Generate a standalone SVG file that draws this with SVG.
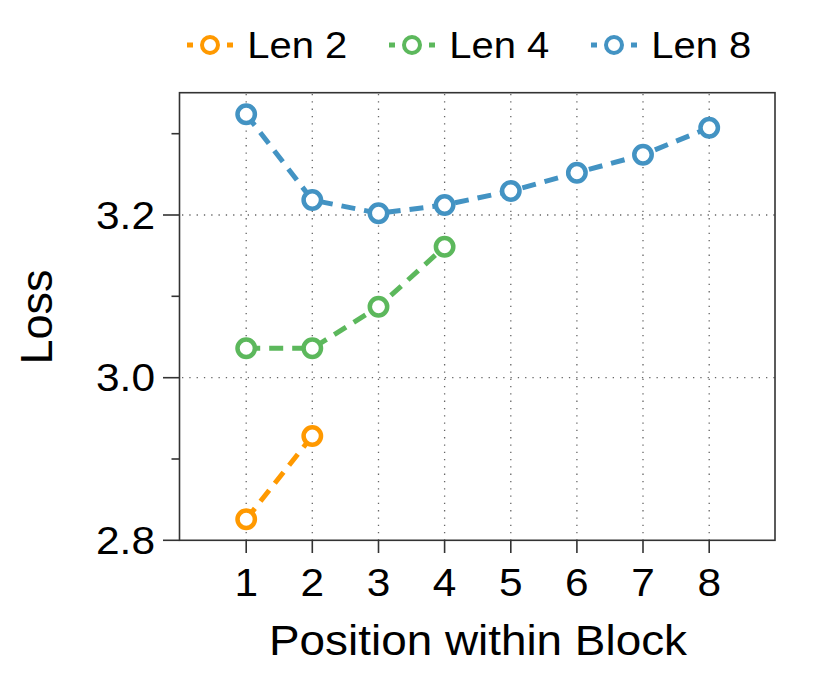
<svg xmlns="http://www.w3.org/2000/svg" width="831" height="684" viewBox="0 0 831 684">
<style>
  text { font-family: "Liberation Sans", Arial, sans-serif; fill: #000; }
  .grid { stroke: #666; stroke-width: 1.3; stroke-dasharray: 1.3 6; fill: none; }
  .axis { stroke: #333; stroke-width: 1.6; fill: none; }
  .tick { stroke: #333; stroke-width: 1.6; }
  .tl { font-size: 39px; }
  .leg { font-size: 37px; }
  .s2 { stroke: #ff9900; }
  .s4 { stroke: #5cb85c; }
  .s8 { stroke: #4393c3; }
  .ln { fill: none; stroke-width: 5; stroke-dasharray: 14 9; }
  .mk { fill: #fff; stroke-width: 4.5; }
  .lmk { fill: #fff; stroke-width: 4; }
  .ld { stroke-width: 5; }
</style>
<rect width="831" height="684" fill="#fff"/>
<g id="grid">
  <line class="grid" x1="246.2" y1="94" x2="246.2" y2="540"/>
  <line class="grid" x1="312.3" y1="94" x2="312.3" y2="540"/>
  <line class="grid" x1="378.5" y1="94" x2="378.5" y2="540"/>
  <line class="grid" x1="444.6" y1="94" x2="444.6" y2="540"/>
  <line class="grid" x1="510.8" y1="94" x2="510.8" y2="540"/>
  <line class="grid" x1="576.9" y1="94" x2="576.9" y2="540"/>
  <line class="grid" x1="643.0" y1="94" x2="643.0" y2="540"/>
  <line class="grid" x1="709.2" y1="94" x2="709.2" y2="540"/>
  <line class="grid" x1="182" y1="215" x2="775" y2="215"/>
  <line class="grid" x1="182" y1="377.7" x2="775" y2="377.7"/>
</g>
<g id="axes">
  <rect class="axis" x="179.5" y="92.7" width="595.5" height="447.6"/>
  <line class="tick" x1="163" y1="215" x2="179.5" y2="215"/>
  <line class="tick" x1="163" y1="377.7" x2="179.5" y2="377.7"/>
  <line class="tick" x1="163" y1="540.3" x2="179.5" y2="540.3"/>
  <line class="tick" x1="171.5" y1="133.7" x2="179.5" y2="133.7"/>
  <line class="tick" x1="171.5" y1="296.3" x2="179.5" y2="296.3"/>
  <line class="tick" x1="171.5" y1="459" x2="179.5" y2="459"/>
  <line class="tick" x1="246.2" y1="540.3" x2="246.2" y2="553"/>
  <line class="tick" x1="312.3" y1="540.3" x2="312.3" y2="553"/>
  <line class="tick" x1="378.5" y1="540.3" x2="378.5" y2="553"/>
  <line class="tick" x1="444.6" y1="540.3" x2="444.6" y2="553"/>
  <line class="tick" x1="510.8" y1="540.3" x2="510.8" y2="553"/>
  <line class="tick" x1="576.9" y1="540.3" x2="576.9" y2="553"/>
  <line class="tick" x1="643.0" y1="540.3" x2="643.0" y2="553"/>
  <line class="tick" x1="709.2" y1="540.3" x2="709.2" y2="553"/>
  <text class="tl" x="155" y="228.5" text-anchor="end" textLength="59" lengthAdjust="spacingAndGlyphs">3.2</text>
  <text class="tl" x="155" y="391.2" text-anchor="end" textLength="59" lengthAdjust="spacingAndGlyphs">3.0</text>
  <text class="tl" x="155" y="553.8" text-anchor="end" textLength="59" lengthAdjust="spacingAndGlyphs">2.8</text>
  <text class="tl" x="246.2" y="596" text-anchor="middle" textLength="23.6" lengthAdjust="spacingAndGlyphs">1</text>
  <text class="tl" x="312.3" y="596" text-anchor="middle" textLength="23.6" lengthAdjust="spacingAndGlyphs">2</text>
  <text class="tl" x="378.5" y="596" text-anchor="middle" textLength="23.6" lengthAdjust="spacingAndGlyphs">3</text>
  <text class="tl" x="444.6" y="596" text-anchor="middle" textLength="23.6" lengthAdjust="spacingAndGlyphs">4</text>
  <text class="tl" x="510.8" y="596" text-anchor="middle" textLength="23.6" lengthAdjust="spacingAndGlyphs">5</text>
  <text class="tl" x="576.9" y="596" text-anchor="middle" textLength="23.6" lengthAdjust="spacingAndGlyphs">6</text>
  <text class="tl" x="643.0" y="596" text-anchor="middle" textLength="23.6" lengthAdjust="spacingAndGlyphs">7</text>
  <text class="tl" x="709.2" y="596" text-anchor="middle" textLength="23.6" lengthAdjust="spacingAndGlyphs">8</text>
  <text x="269" y="655" font-size="42" textLength="418" lengthAdjust="spacingAndGlyphs">Position within Block</text>
  <text transform="translate(51.5,317) rotate(-90)" font-size="45" text-anchor="middle">Loss</text>
</g>
<g id="connectors">
  <polyline class="ln s2" points="246.2,519.3 312.3,436"/>
  <polyline class="ln s4" points="246.2,348.3 312.3,348.3 378.5,306.7 444.6,246.7"/>
  <polyline class="ln s8" points="246.2,114.3 312.3,200 378.5,213.3 444.6,205 510.8,191 576.9,172.7 643.0,154.7 709.2,127.7"/>
</g>
<g id="len2-points">
  <circle class="mk s2" cx="246.2" cy="519.3" r="8.7"/>
  <circle class="mk s2" cx="312.3" cy="436" r="8.7"/>
</g>
<g id="len4-points">
  <circle class="mk s4" cx="246.2" cy="348.3" r="8.7"/>
  <circle class="mk s4" cx="312.3" cy="348.3" r="8.7"/>
  <circle class="mk s4" cx="378.5" cy="306.7" r="8.7"/>
  <circle class="mk s4" cx="444.6" cy="246.7" r="8.7"/>
</g>
<g id="len8-points">
  <circle class="mk s8" cx="246.2" cy="114.3" r="8.7"/>
  <circle class="mk s8" cx="312.3" cy="200" r="8.7"/>
  <circle class="mk s8" cx="378.5" cy="213.3" r="8.7"/>
  <circle class="mk s8" cx="444.6" cy="205" r="8.7"/>
  <circle class="mk s8" cx="510.8" cy="191" r="8.7"/>
  <circle class="mk s8" cx="576.9" cy="172.7" r="8.7"/>
  <circle class="mk s8" cx="643.0" cy="154.7" r="8.7"/>
  <circle class="mk s8" cx="709.2" cy="127.7" r="8.7"/>
</g>
<g id="legend">
  <g id="legend-len2">
    <line class="ld s2" x1="187" y1="45" x2="193" y2="45"/>
    <line class="ld s2" x1="227" y1="45" x2="233" y2="45"/>
    <circle class="lmk s2" cx="210" cy="45" r="8"/>
    <text class="leg" x="247.3" y="58.3" textLength="100" lengthAdjust="spacingAndGlyphs">Len 2</text>
  </g>
  <g id="legend-len4">
    <line class="ld s4" x1="389" y1="45" x2="395" y2="45"/>
    <line class="ld s4" x1="429" y1="45" x2="435" y2="45"/>
    <circle class="lmk s4" cx="412" cy="45" r="8"/>
    <text class="leg" x="449.3" y="58.3" textLength="100" lengthAdjust="spacingAndGlyphs">Len 4</text>
  </g>
  <g id="legend-len8">
    <line class="ld s8" x1="591" y1="45" x2="597" y2="45"/>
    <line class="ld s8" x1="631" y1="45" x2="637" y2="45"/>
    <circle class="lmk s8" cx="614" cy="45" r="8"/>
    <text class="leg" x="651.3" y="58.3" textLength="100" lengthAdjust="spacingAndGlyphs">Len 8</text>
  </g>
</g>
</svg>
